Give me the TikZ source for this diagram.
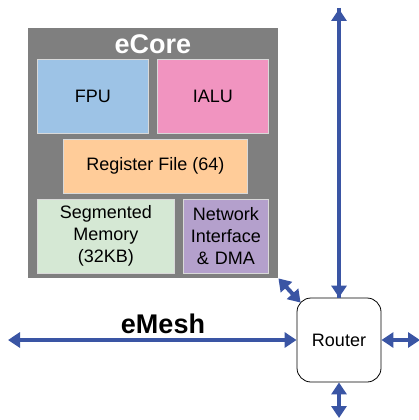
\documentclass[tikz,border=0pt]{standalone}
\usepackage{fontspec}
\setmainfont{Liberation Sans}
\usetikzlibrary{arrows.meta}
\definecolor{coregray}{HTML}{7F7F7F}
\definecolor{fpublue}{HTML}{9DC3E6}
\definecolor{alupink}{HTML}{F194C0}
\definecolor{regpeach}{HTML}{FFCC99}
\definecolor{memgreen}{HTML}{D5E8D4}
\definecolor{netpurple}{HTML}{B4A0CC}
\definecolor{meshblue}{HTML}{3A55A4}
\tikzset{
  unit/.style={draw=white!70!coregray, line width=0.6pt, anchor=north west, inner sep=0pt, align=center, font=\fontsize{18}{22}\selectfont},
  link/.style={draw=meshblue, line width=4pt, {Triangle[length=12pt,width=15pt]}-{Triangle[length=12pt,width=15pt]}},
  onelink/.style={draw=meshblue, line width=4pt, -{Triangle[length=12pt,width=15pt]}}
}
\begin{document}
\begin{tikzpicture}[x=1pt,y=-1pt]
\useasboundingbox (0,0) rectangle (418,420);
\node[fill=coregray, minimum width=250pt, minimum height=250pt, anchor=north west, inner sep=0pt] (core) at (28,28) {};
\node[text=white, font=\bfseries\fontsize{27}{29}\selectfont] (title) at (153,44) {eCore};
\node[unit, fill=fpublue, minimum width=111pt, minimum height=74pt] (fpu) at (37,59) {FPU};
\node[unit, fill=alupink, minimum width=111pt, minimum height=74pt] (alu) at (157,59) {IALU};
\node[unit, fill=regpeach, minimum width=184pt, minimum height=54pt] (reg) at (63,139) {Register File (64)};
\node[unit, fill=memgreen, minimum width=137pt, minimum height=74pt, text width=137pt] (mem) at (37,199) {Segmented\\Memory\\(32KB)};
\node[unit, fill=netpurple, minimum width=85pt, minimum height=74pt, text width=85pt] (net) at (183,199) {Network\\Interface\\\& DMA};
\node[draw=black, line width=0.8pt, rounded corners=14pt, minimum width=84pt, minimum height=84pt, fill=white, font=\fontsize{18}{20}\selectfont] (router) at (339,340) {Router};
\coordinate (topend) at (339,8);
\coordinate (leftend) at (8,340);
\coordinate (rightend) at (418,340);
\coordinate (botend) at (339,420);
\draw[onelink] (topend) -- (router.north);
\draw[onelink] (router.north) -- ([yshift=-1pt]topend);
\draw[link] (leftend) -- (router.west);
\draw[link] (router.east) -- ([xshift=2pt]rightend);
\draw[link] (router.south) -- ([yshift=2pt]botend);
\draw[link] (core.south east) -- ([shift={(4pt,-5pt)}]router.north west);
\node[font=\bfseries\fontsize{27}{29}\selectfont] (mesh) at (163,324) {eMesh};
\end{tikzpicture}
\end{document}
